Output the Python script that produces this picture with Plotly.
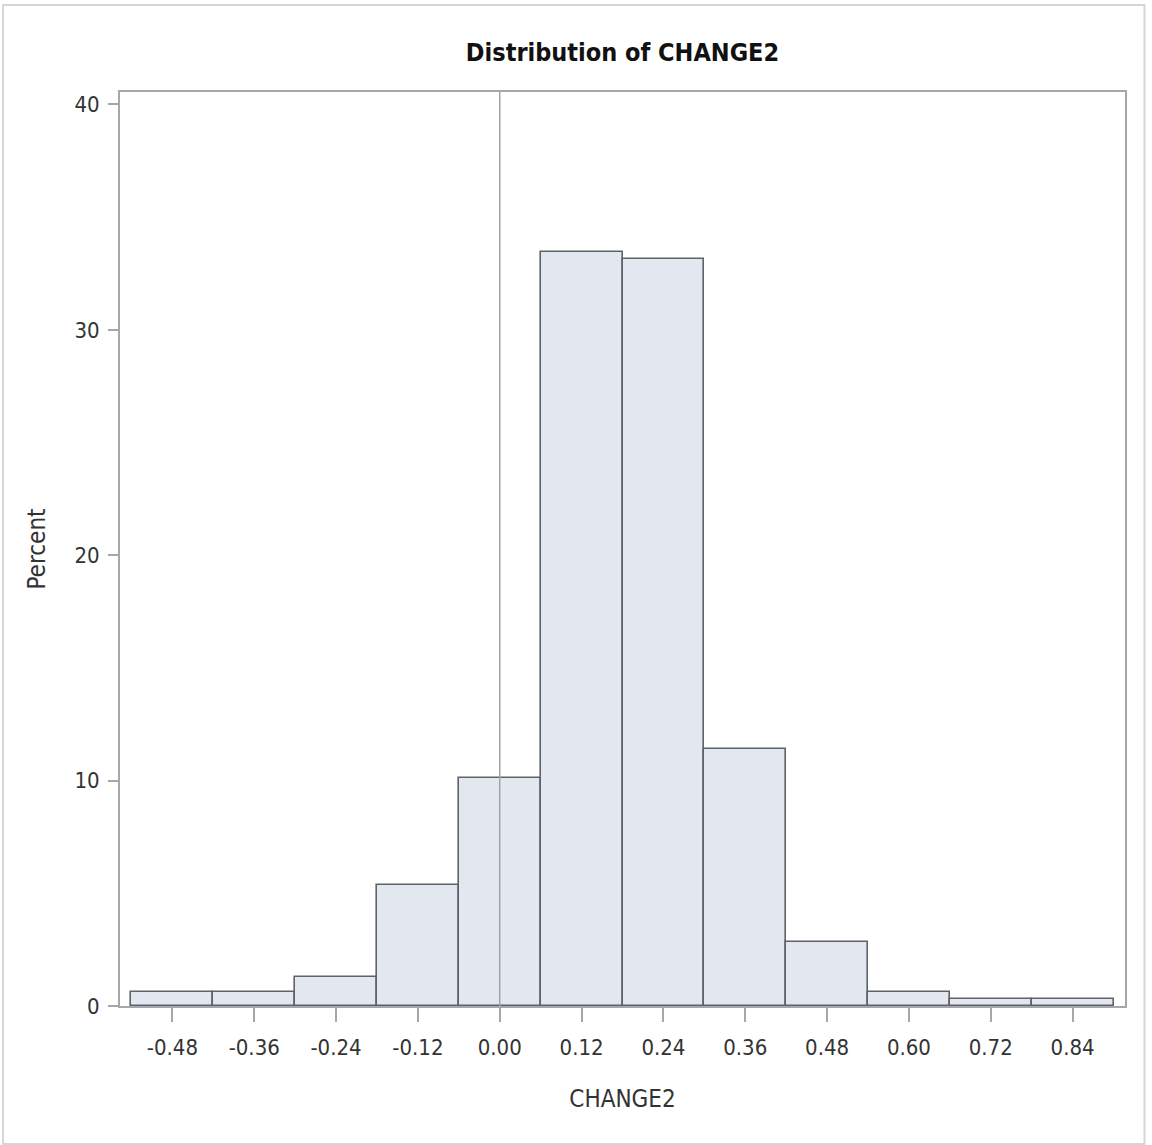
import plotly.graph_objects as go

# Data
bin_mid = [-0.48, -0.36, -0.24, -0.12, 0.00, 0.12, 0.24, 0.36, 0.48, 0.60, 0.72, 0.84]
percent = [0.62, 0.62, 1.27, 5.37, 10.13, 33.45, 33.13, 11.38, 2.84, 0.62, 0.31, 0.31]
bin_width = 0.12
x_tick_vals = [-0.48, -0.36, -0.24, -0.12, 0.00, 0.12, 0.24, 0.36, 0.48, 0.60, 0.72, 0.84]
x_tick_text = ["-0.48", "-0.36", "-0.24", "-0.12", "0.00", "0.12", "0.24", "0.36", "0.48", "0.60", "0.72", "0.84"]
y_tick_vals = [0, 10, 20, 30, 40]
ref_line_x = 0.0

FONT = "Liberation Sans Narrow, Arial Narrow, DejaVu Sans Condensed, Liberation Sans, Arial, sans-serif"
TEXT = "#333333"
FRAME = "#a4a7ab"

fig = go.Figure()
fig.add_trace(go.Bar(
    x=bin_mid, y=percent, width=[bin_width] * len(bin_mid),
    marker=dict(color="#e3e7f0", line=dict(color="#5f6266", width=1.6)),
    hoverinfo="x+y", showlegend=False,
))

fig.add_shape(type="line", xref="x", yref="paper", x0=ref_line_x, x1=ref_line_x, y0=0, y1=1,
              line=dict(color="#a3a3a3", width=1.5), layer="above")

# outer light border of the image
L, R, T, B = 120, 1125.5, 92, 1006
W = R - L
H = B - T
fig.add_shape(type="rect", xref="paper", yref="paper",
              x0=(3 - L) / W, x1=(1145 - L) / W, y0=(B - 1144) / H, y1=(B - 5) / H,
              line=dict(color="#d6d6d6", width=2), fillcolor="rgba(0,0,0,0)", layer="below")

fig.update_layout(
    width=1152, height=1145,
    margin=dict(l=L, r=1152 - R, t=T, b=1145 - B, pad=0),
    paper_bgcolor="white", plot_bgcolor="white",
    font=dict(family=FONT, color=TEXT),
    title=dict(text="<b>Distribution of CHANGE2</b>", x=0.5, xref="paper", xanchor="center",
               y=1 - 52 / 1145, yref="container", yanchor="middle",
               font=dict(family=FONT, size=25, color="#111111")),
    bargap=0,
)

fig.update_xaxes(
    range=[-0.5568, 0.9168], tickvals=x_tick_vals, ticktext=x_tick_text,
    ticks="outside", ticklen=14, tickwidth=1.5, tickcolor=FRAME,
    showline=True, linecolor=FRAME, linewidth=2, mirror=True,
    showgrid=False, zeroline=False, ticklabelstandoff=7,
    tickfont=dict(family=FONT, size=22, color=TEXT),
    title=dict(text="CHANGE2", font=dict(family=FONT, size=24, color=TEXT), standoff=31),
)
fig.update_yaxes(
    range=[0, 40.55], tickvals=y_tick_vals,
    ticks="outside", ticklen=10, tickwidth=1.5, tickcolor=FRAME,
    showline=True, linecolor=FRAME, linewidth=2, mirror=True,
    showgrid=False, zeroline=False, ticklabelstandoff=4,
    tickfont=dict(family=FONT, size=22, color=TEXT),
    title=dict(text="Percent", font=dict(family=FONT, size=24, color=TEXT), standoff=22),
)

fig.write_html("out.html", config={"displayModeBar": False},
               post_script="document.body.style.margin='0px';document.body.style.overflow='hidden';")
